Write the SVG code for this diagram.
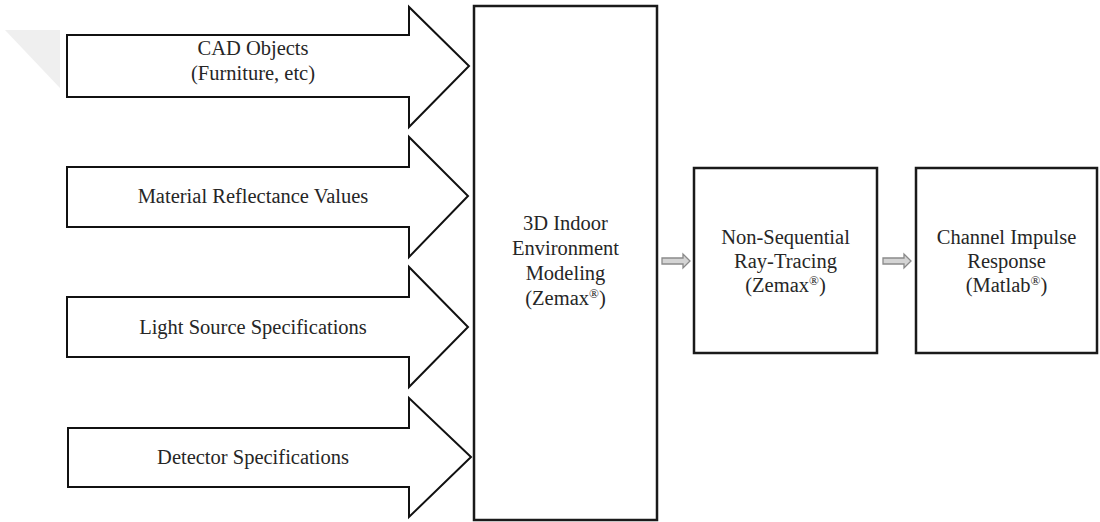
<svg xmlns="http://www.w3.org/2000/svg" width="1100" height="522" viewBox="0 0 1100 522">
<defs>
<style>
.bg{fill:#ffffff}
.big{fill:#ffffff;stroke:#111;stroke-width:2;stroke-linejoin:miter}
.box{fill:#ffffff;stroke:#1a1a1a;stroke-width:2.5}
.small{fill:#d4d4d4;stroke:#8a8a8a;stroke-width:1.3;stroke-linejoin:miter}
.t{font-family:'Liberation Serif','DejaVu Serif',serif;font-size:20.5px;fill:#262626;text-anchor:middle}
</style>
</defs>
<rect class="bg" x="0" y="0" width="1100" height="522"/>
<polygon points="5,30 60,30 60,88" fill="#efefef"/>
<g id="cad">
<polygon class="big" points="67,35 409,35 409,7 469,66 409,127 409,97 67,97"/>
<text class="t" font-family="Liberation Serif, serif" x="253" y="55">CAD Objects</text>
<text class="t" font-family="Liberation Serif, serif" x="253" y="80">(Furniture, etc)</text>
</g>
<g id="material">
<polygon class="big" points="67,167 409,167 409,137 468,196 409,257 409,227 67,227"/>
<text class="t" font-family="Liberation Serif, serif" x="253" y="203">Material Reflectance Values</text>
</g>
<g id="light">
<polygon class="big" points="67,297 409,297 409,267 468,327 409,387 409,357 67,357"/>
<text class="t" font-family="Liberation Serif, serif" x="253" y="334">Light Source Specifications</text>
</g>
<g id="detector">
<polygon class="big" points="68,428 409,428 409,398 471,457 409,517 409,487 68,487"/>
<text class="t" font-family="Liberation Serif, serif" x="253" y="464">Detector Specifications</text>
</g>
<g id="modeling">
<rect class="box" x="474" y="6" width="183" height="514"/>
<text class="t" font-family="Liberation Serif, serif" x="565.5" y="230">3D Indoor</text>
<text class="t" font-family="Liberation Serif, serif" x="565.5" y="255">Environment</text>
<text class="t" font-family="Liberation Serif, serif" x="565.5" y="280">Modeling</text>
<text class="t" font-family="Liberation Serif, serif" x="565.5" y="305">(Zemax<tspan font-size="13" dy="-7">®</tspan><tspan dy="7">)</tspan></text>
</g>
<g id="raytracing">
<rect class="box" x="694" y="168" width="183" height="185"/>
<text class="t" font-family="Liberation Serif, serif" x="785.5" y="244">Non-Sequential</text>
<text class="t" font-family="Liberation Serif, serif" x="785.5" y="268">Ray-Tracing</text>
<text class="t" font-family="Liberation Serif, serif" x="785.5" y="292">(Zemax<tspan font-size="13" dy="-7">®</tspan><tspan dy="7">)</tspan></text>
</g>
<g id="impulse">
<rect class="box" x="916" y="168" width="181" height="185"/>
<text class="t" font-family="Liberation Serif, serif" x="1006.5" y="244">Channel Impulse</text>
<text class="t" font-family="Liberation Serif, serif" x="1006.5" y="268">Response</text>
<text class="t" font-family="Liberation Serif, serif" x="1006.5" y="292">(Matlab<tspan font-size="13" dy="-7">®</tspan><tspan dy="7">)</tspan></text>
</g>
<g id="connectors">
<polygon class="small" points="662,258 683,258 683,254 690,261 683,268 683,264 662,264"/>
<polygon class="small" points="883,258 904,258 904,254 911,261 904,268 904,264 883,264"/>
</g>
</svg>
